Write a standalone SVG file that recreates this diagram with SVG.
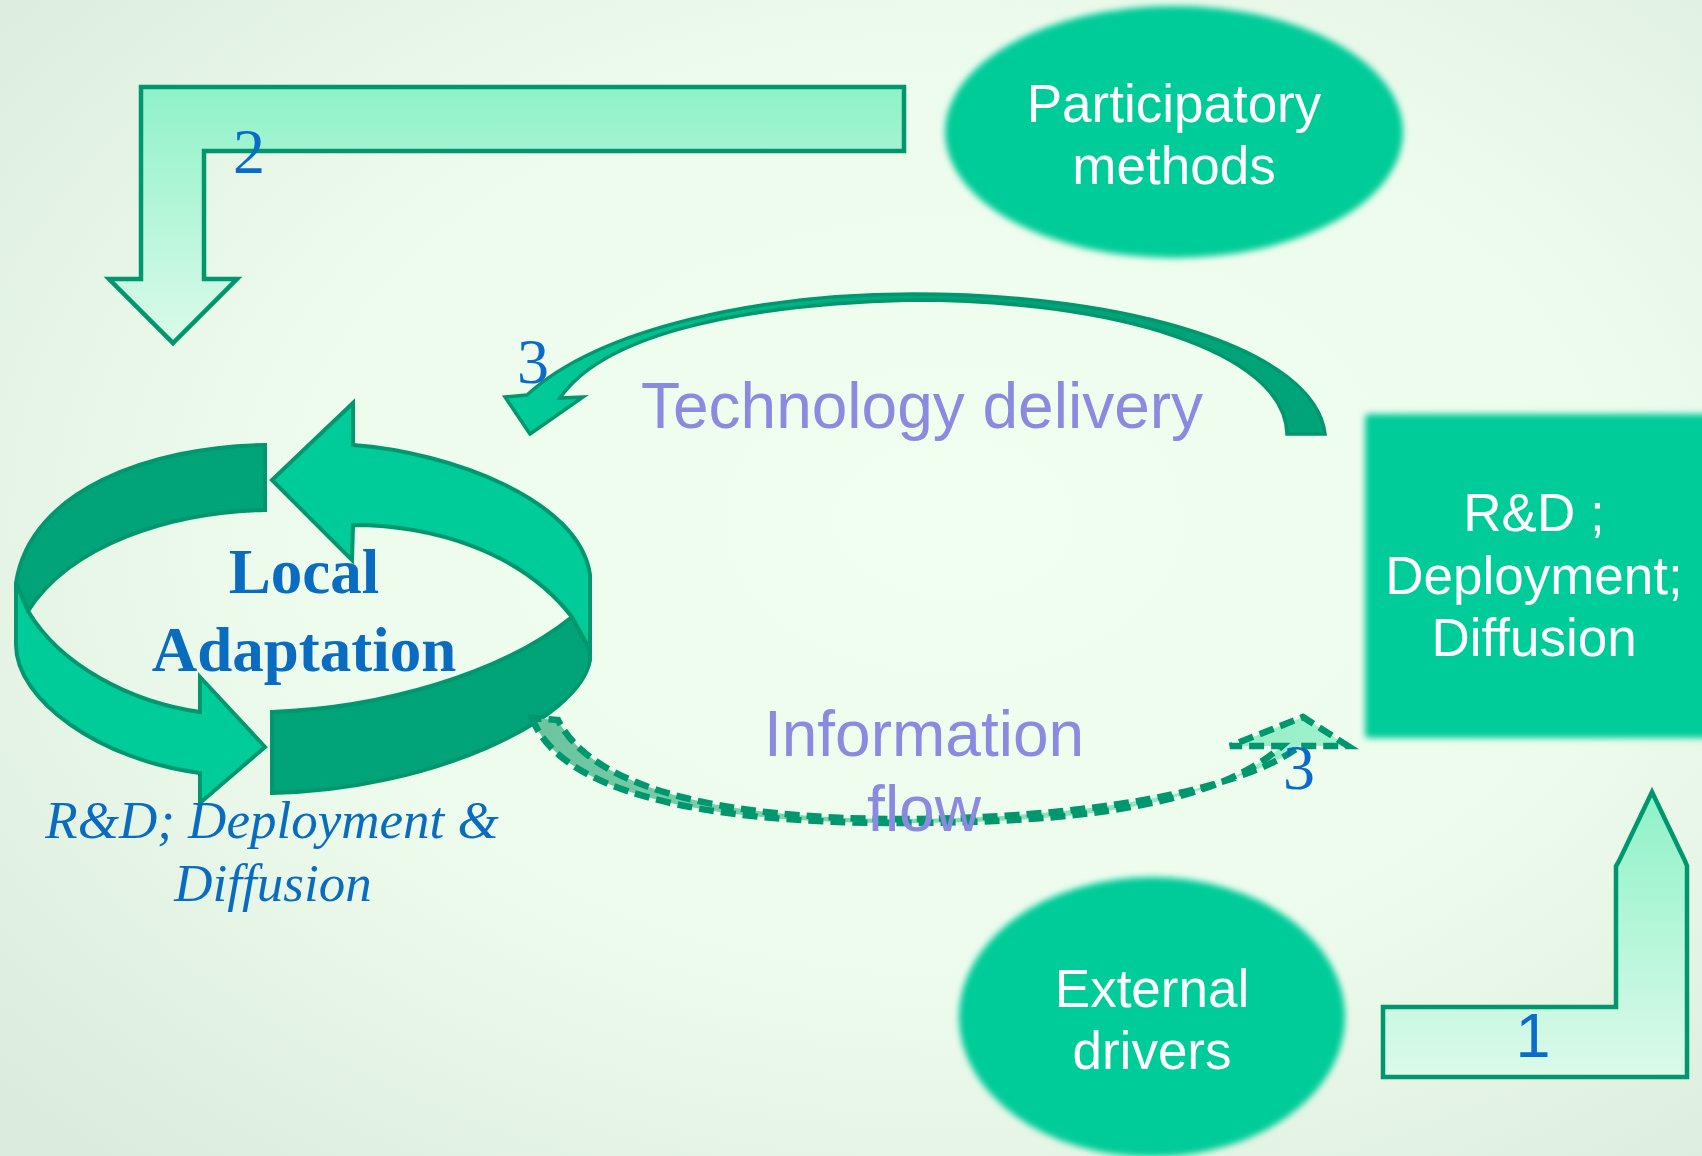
<svg xmlns="http://www.w3.org/2000/svg" width="1702" height="1156" viewBox="0 0 1702 1156">
<defs>
<radialGradient id="bg" cx="0.56" cy="0.45" r="0.75">
<stop offset="0" stop-color="#f0fff0"/>
<stop offset="0.55" stop-color="#ecfbec"/>
<stop offset="1" stop-color="#dcecdc"/>
</radialGradient>
<linearGradient id="bent" x1="0" y1="0" x2="0" y2="1">
<stop offset="0" stop-color="#8ef2c8"/>
<stop offset="1" stop-color="#dcfaea"/>
</linearGradient>
<linearGradient id="tech" gradientUnits="userSpaceOnUse" x1="520" y1="0" x2="950" y2="0">
<stop offset="0" stop-color="#00cc99"/>
<stop offset="1" stop-color="#00a478"/>
</linearGradient>
<linearGradient id="info" gradientUnits="userSpaceOnUse" x1="530" y1="0" x2="1340" y2="0">
<stop offset="0" stop-color="#6cc49e"/>
<stop offset="1" stop-color="#9ef2cc"/>
</linearGradient>
<filter id="soft" x="-10%" y="-10%" width="120%" height="120%">
<feGaussianBlur stdDeviation="3"/>
</filter>
</defs>
<style>
.node{fill:#00cc99}
.wt{font-family:"Liberation Sans",Arial,sans-serif;font-size:53px;fill:#ffffff;text-anchor:middle}
.ring{stroke:#00966e;stroke-width:4;stroke-linejoin:miter}
.dark{fill:#00a478}
.light{fill:#00cc99}
.bent{fill:url(#bent);stroke:#00966e;stroke-width:4.5;stroke-linejoin:miter}
.purple{font-family:"Liberation Sans",Arial,sans-serif;font-size:64px;fill:#8a8ae0;text-anchor:middle}
.num{font-family:"Liberation Serif","Times New Roman",serif;font-size:64px;fill:#0a6cc8;text-anchor:middle}
.blue{fill:#0a6cc0;text-anchor:middle;font-family:"Liberation Serif","Times New Roman",serif}
</style>
<rect width="1702" height="1156" fill="url(#bg)"/>

<g id="participatory-methods">
<ellipse class="node" cx="1174" cy="132" rx="229" ry="126" filter="url(#soft)"/>
<text class="wt" x="1174" y="122">Participatory</text>
<text class="wt" x="1174" y="184">methods</text>
</g>

<g id="rd-deployment-diffusion">
<rect class="node" x="1365" y="414" width="345" height="324" rx="4" filter="url(#soft)"/>
<text class="wt" x="1534" y="531">R&amp;D ;</text>
<text class="wt" x="1534" y="594">Deployment;</text>
<text class="wt" x="1534" y="656">Diffusion</text>
</g>

<g id="external-drivers">
<ellipse class="node" cx="1152" cy="1017" rx="193" ry="140" filter="url(#soft)"/>
<text class="wt" x="1152" y="1007">External</text>
<text class="wt" x="1152" y="1069">drivers</text>
</g>

<g id="local-adaptation">
<path class="ring dark" d="M265,445 C150,447 30,490 16,583 L28,611 C70,545 170,512 265,510 Z"/>
<path class="ring light" d="M16,583 L16,645 C16,700 100,760 200,773 L200,803 L265,747 L200,677 L200,712 C130,702 60,665 28,611 Z"/>
<path class="ring dark" d="M272,712 C380,708 500,675 572,617 L590,650 L590,660 C580,720 430,790 272,793 Z"/>
<path class="ring light" d="M353,445 C450,452 580,500 590,575 L590,650 L572,617 C520,550 430,525 353,525 L352,560 L272,480 L353,403 Z"/>
<text class="blue" x="304" y="593" font-size="63" font-weight="bold">Local</text>
<text class="blue" x="304" y="671" font-size="63" font-weight="bold">Adaptation</text>
<text class="blue" x="272" y="838" font-size="53" font-style="italic">R&amp;D; Deployment &amp;</text>
<text class="blue" x="273" y="901" font-size="53" font-style="italic">Diffusion</text>
</g>

<g id="connectors">
<path id="arrow-2" class="bent" d="M141,87 L904,87 L904,151 L204,151 L204,279 L237,279 L173,343 L109,279 L141,279 Z"/>
<path id="arrow-1" class="bent" d="M1383,1007 L1616,1007 L1616,866 L1619,861 L1652,792 L1685,861 L1687,866 L1687,1077 L1383,1077 Z"/>
<path id="technology-delivery" d="M1325,434 C1315,350 1130,294 913,294 C760,294 600,328 527,395 L505,397 L530,434 L583,397 L560,398 C600,340 720,305 913,300 C1110,300 1285,350 1287,434 Z" fill="url(#tech)" stroke="#00966e" stroke-width="3.5" stroke-linejoin="miter"/>
<path id="information-flow" d="M532,718 C560,792 700,823 900,823 C1080,823 1215,805 1282,746 L1230,746 L1303,717 L1348,746 L1300,746 C1240,792 1080,819 900,819 C720,819 592,788 558,720 Z" fill="url(#info)" stroke="#00966e" stroke-width="6.5" stroke-dasharray="15 7" stroke-linejoin="miter"/>
<text class="num" x="249" y="173">2</text>
<text class="num" x="533" y="383">3</text>
<text class="num" x="1299" y="789">3</text>
<text x="1533" y="1057" font-family="Liberation Sans, Arial, sans-serif" font-size="63" fill="#0a6cc8" text-anchor="middle">1</text>
<text class="purple" x="922" y="428">Technology delivery</text>
<text class="purple" x="924" y="756">Information</text>
<text class="purple" x="924" y="831">flow</text>
</g>
</svg>
